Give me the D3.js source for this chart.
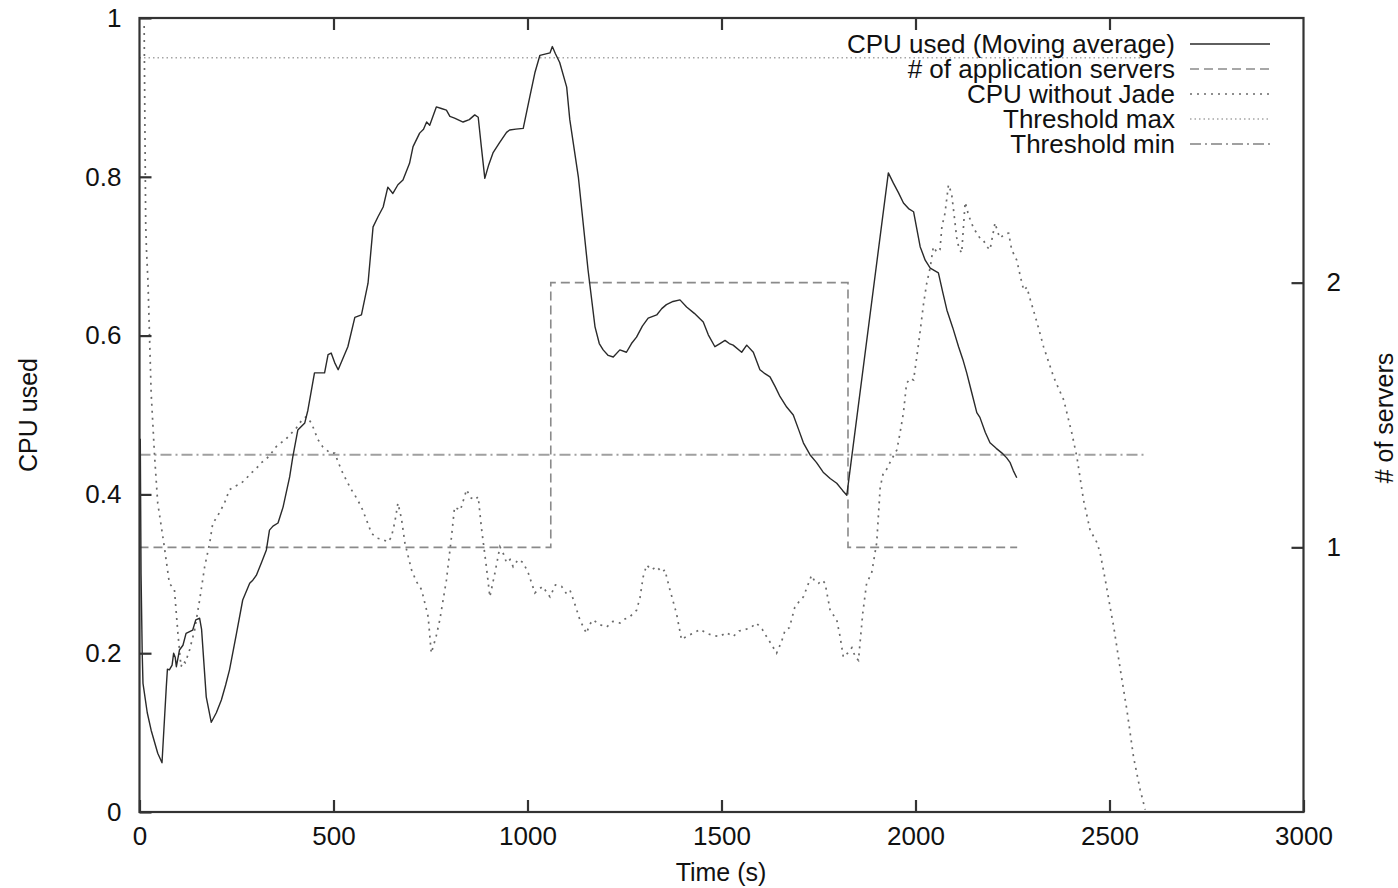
<!DOCTYPE html>
<html>
<head>
<meta charset="utf-8">
<script src="https://cdn.jsdelivr.net/npm/d3@7"></script>
<style>
  html, body { margin: 0; padding: 0; background: #fff; }
  svg text { font-family: "Liberation Sans", Arial, sans-serif; fill: #111; }
</style>
</head>
<body>
<svg id="chart" width="1398" height="888"></svg>
<script>
// CPU used (moving average) : [time s, cpu]
const cpuUsed = [
  [2, 0.47], [4, 0.30], [7, 0.20], [9, 0.162], [20, 0.125], [30, 0.103], [47, 0.074], [58, 0.062],
  [69, 0.157], [72, 0.18], [77, 0.179], [84, 0.185], [88, 0.20], [92, 0.195], [95, 0.183], [103, 0.204],
  [112, 0.21], [120, 0.225], [137, 0.229], [145, 0.242], [155, 0.244], [160, 0.23], [172, 0.145],
  [185, 0.113], [198, 0.125], [211, 0.141], [222, 0.16], [232, 0.179], [250, 0.225], [266, 0.267],
  [284, 0.288], [292, 0.292], [301, 0.298], [315, 0.315], [327, 0.33], [335, 0.355], [344, 0.36],
  [357, 0.364], [370, 0.384], [387, 0.422], [395, 0.447], [408, 0.481], [426, 0.49], [434, 0.506],
  [451, 0.553], [477, 0.553], [486, 0.576], [494, 0.578], [503, 0.566], [512, 0.557], [525, 0.572],
  [537, 0.586], [555, 0.623], [572, 0.626], [589, 0.666], [602, 0.737], [615, 0.75], [628, 0.762],
  [640, 0.787], [653, 0.779], [666, 0.79], [679, 0.796], [696, 0.817], [705, 0.838], [722, 0.855],
  [732, 0.86], [740, 0.869], [748, 0.865], [765, 0.888], [778, 0.886], [791, 0.884], [800, 0.876],
  [812, 0.874], [834, 0.869], [850, 0.872], [864, 0.878], [873, 0.875], [881, 0.838], [890, 0.798],
  [900, 0.815], [911, 0.83], [928, 0.843], [946, 0.856], [954, 0.859], [970, 0.86], [989, 0.861],
  [1006, 0.901], [1019, 0.931], [1032, 0.953], [1058, 0.956], [1064, 0.964], [1072, 0.955],
  [1083, 0.944], [1101, 0.913], [1109, 0.872], [1131, 0.80], [1156, 0.683], [1174, 0.611],
  [1185, 0.59], [1195, 0.582], [1208, 0.575], [1221, 0.573], [1238, 0.582], [1255, 0.579],
  [1268, 0.59], [1281, 0.598], [1296, 0.612], [1311, 0.622], [1333, 0.626], [1346, 0.634],
  [1358, 0.639], [1375, 0.643], [1393, 0.645], [1410, 0.636], [1430, 0.628], [1453, 0.617],
  [1466, 0.601], [1483, 0.586], [1496, 0.59], [1509, 0.594], [1520, 0.59], [1530, 0.588],
  [1552, 0.579], [1565, 0.588], [1582, 0.579], [1599, 0.557], [1612, 0.552], [1625, 0.548],
  [1638, 0.536], [1651, 0.523], [1668, 0.51], [1685, 0.50], [1700, 0.48], [1711, 0.465],
  [1728, 0.45], [1745, 0.44], [1762, 0.428], [1780, 0.42], [1797, 0.414], [1812, 0.405],
  [1823, 0.399], [1930, 0.805], [1943, 0.792], [1956, 0.78], [1969, 0.767], [1982, 0.76],
  [1995, 0.756], [2012, 0.712], [2025, 0.695], [2038, 0.685], [2059, 0.679], [2070, 0.655],
  [2081, 0.632], [2096, 0.61], [2111, 0.586], [2122, 0.57], [2132, 0.553], [2145, 0.528],
  [2158, 0.503], [2166, 0.497], [2180, 0.478], [2192, 0.465], [2208, 0.458], [2223, 0.452],
  [2235, 0.446], [2244, 0.44], [2252, 0.43], [2261, 0.421]
];

// number of application servers (right axis), step changes
const serverSteps = [
  [0, 1], [1060, 1], [1060, 2], [1826, 2], [1826, 1], [2262, 1]
];

// CPU without Jade : [time s, cpu]
const cpuNoJade = [
  [12, 0.99], [14, 0.86], [16, 0.74], [18, 0.708], [22, 0.666], [30, 0.528], [39, 0.447],
  [47, 0.389], [56, 0.36], [64, 0.334], [77, 0.288], [90, 0.28], [99, 0.225], [107, 0.183],
  [112, 0.19], [118, 0.188], [129, 0.204], [142, 0.229], [155, 0.267], [168, 0.309], [181, 0.339],
  [189, 0.364], [198, 0.37], [206, 0.377], [219, 0.389], [232, 0.406], [245, 0.41], [262, 0.414],
  [275, 0.42], [288, 0.427], [300, 0.432], [314, 0.44], [326, 0.444], [340, 0.452], [352, 0.46],
  [365, 0.465], [378, 0.47], [391, 0.477], [402, 0.482], [413, 0.49], [422, 0.495], [430, 0.498],
  [443, 0.49], [460, 0.469], [472, 0.46], [482, 0.456], [492, 0.452], [503, 0.452], [520, 0.431],
  [533, 0.418], [546, 0.406], [560, 0.395], [572, 0.384], [585, 0.368], [598, 0.351], [612, 0.345],
  [628, 0.343], [640, 0.34], [649, 0.346], [658, 0.365], [666, 0.389], [675, 0.37], [684, 0.339],
  [701, 0.305], [714, 0.29], [727, 0.28], [744, 0.246], [752, 0.20], [764, 0.22], [774, 0.242],
  [791, 0.292], [804, 0.346], [812, 0.384], [827, 0.38], [843, 0.406], [853, 0.396], [864, 0.393],
  [873, 0.397], [881, 0.359], [894, 0.309], [903, 0.271], [916, 0.301], [929, 0.334], [938, 0.325],
  [946, 0.314], [955, 0.318], [963, 0.309], [976, 0.318], [989, 0.314], [1002, 0.301],
  [1019, 0.276], [1030, 0.281], [1040, 0.284], [1050, 0.276], [1058, 0.271], [1072, 0.286],
  [1088, 0.284], [1099, 0.276], [1109, 0.28], [1120, 0.265], [1135, 0.242], [1152, 0.225],
  [1160, 0.236], [1169, 0.242], [1186, 0.236], [1204, 0.233], [1220, 0.24], [1238, 0.238],
  [1251, 0.243], [1264, 0.246], [1281, 0.254], [1290, 0.27], [1298, 0.296], [1307, 0.311],
  [1320, 0.305], [1333, 0.309], [1346, 0.302], [1354, 0.305], [1367, 0.28], [1384, 0.25],
  [1397, 0.217], [1412, 0.222], [1427, 0.225], [1445, 0.23], [1462, 0.225], [1480, 0.222],
  [1496, 0.221], [1512, 0.226], [1530, 0.221], [1545, 0.228], [1556, 0.229], [1575, 0.232],
  [1590, 0.238], [1605, 0.23], [1616, 0.221], [1630, 0.21], [1642, 0.20], [1655, 0.215],
  [1664, 0.229], [1675, 0.232], [1689, 0.258], [1700, 0.265], [1711, 0.271], [1722, 0.285],
  [1732, 0.298], [1741, 0.29], [1750, 0.288], [1760, 0.292], [1767, 0.288], [1780, 0.254],
  [1797, 0.242], [1806, 0.22], [1814, 0.195], [1825, 0.2], [1836, 0.207], [1845, 0.195],
  [1853, 0.191], [1864, 0.25], [1874, 0.288], [1887, 0.301], [1900, 0.339], [1909, 0.409],
  [1917, 0.427], [1926, 0.432], [1934, 0.44], [1945, 0.45], [1952, 0.456], [1960, 0.477],
  [1969, 0.503], [1977, 0.54], [1987, 0.546], [1995, 0.544], [2008, 0.59], [2021, 0.641],
  [2029, 0.666], [2038, 0.686], [2046, 0.712], [2055, 0.705], [2063, 0.708], [2068, 0.737],
  [2076, 0.754], [2085, 0.79], [2093, 0.779], [2100, 0.75], [2106, 0.724], [2112, 0.71],
  [2119, 0.704], [2128, 0.768], [2135, 0.755], [2141, 0.746], [2150, 0.735], [2158, 0.729],
  [2167, 0.722], [2175, 0.72], [2184, 0.712], [2192, 0.708], [2205, 0.742], [2212, 0.73],
  [2218, 0.723], [2230, 0.728], [2240, 0.729], [2248, 0.708], [2261, 0.695], [2270, 0.675],
  [2279, 0.657], [2287, 0.661], [2296, 0.645], [2304, 0.632], [2318, 0.608], [2330, 0.586],
  [2343, 0.567], [2356, 0.548], [2370, 0.532], [2382, 0.519], [2393, 0.497], [2403, 0.477],
  [2416, 0.447], [2433, 0.393], [2450, 0.355], [2468, 0.339], [2476, 0.326], [2490, 0.29],
  [2506, 0.246], [2511, 0.233], [2528, 0.179], [2545, 0.128], [2562, 0.069], [2579, 0.028],
  [2592, 0.003]
];

const thresholdMax = 0.95;
const thresholdMin = 0.45;
const thresholdSpan = [0, 2595];

const xTicks = [0, 500, 1000, 1500, 2000, 2500, 3000];
const yTicks = [0, 0.2, 0.4, 0.6, 0.8, 1];
const y2Ticks = [1, 2];

const legendLabels = [
  "CPU used (Moving average)",
  "# of application servers",
  "CPU without Jade",
  "Threshold max",
  "Threshold min"
];

const svg = d3.select("#chart");
const plotLeft = 139.5, plotRight = 1303.5, plotTop = 18, plotBottom = 812;
const fontSize = 26;

const x = d3.scaleLinear().domain([0, 3000]).range([plotLeft, plotRight]);
const y = d3.scaleLinear().domain([0, 1]).range([plotBottom, plotTop]);
const y2 = d3.scaleLinear().domain([0, 3]).range([plotBottom, plotTop]);

// line styles, in legend order
const styles = [
  { stroke: "#2a2a2a", width: 1.4, dash: null },
  { stroke: "#8a8a8a", width: 1.6, dash: "9,5" },
  { stroke: "#6a6a6a", width: 1.7, dash: "2,5" },
  { stroke: "#a5a5a5", width: 1.4, dash: "1.5,3" },
  { stroke: "#a0a0a0", width: 2, dash: "11,4,2,4" }
];

function styled(sel, s) {
  sel.attr("fill", "none")
    .attr("stroke", s.stroke)
    .attr("stroke-width", s.width);
  if (s.dash) sel.attr("stroke-dasharray", s.dash);
  return sel;
}

const line = d3.line().x(d => x(d[0])).y(d => y(d[1]));
const line2 = d3.line().x(d => x(d[0])).y(d => y2(d[1]));

const plot = svg.append("g");

// thresholds
styled(plot.append("path")
  .attr("d", line(thresholdSpan.map(t => [t, thresholdMax]))), styles[3]);
styled(plot.append("path")
  .attr("d", line(thresholdSpan.map(t => [t, thresholdMin]))), styles[4]);

// servers
styled(plot.append("path").attr("d", line2(serverSteps)), styles[1]);

// cpu without jade
styled(plot.append("path").attr("d", line(cpuNoJade)), styles[2]);

// cpu used
styled(plot.append("path").attr("d", line(cpuUsed)), styles[0])
  .attr("stroke-linejoin", "round");

// frame
svg.append("rect")
  .attr("x", plotLeft).attr("y", plotTop)
  .attr("width", plotRight - plotLeft).attr("height", plotBottom - plotTop)
  .attr("fill", "none").attr("stroke", "#333").attr("stroke-width", 2.2);

// axes (gnuplot style: inward ticks)
const tickLen = 12;
const axisBottom = d3.axisBottom(x).tickValues(xTicks).tickSize(-tickLen).tickPadding(15)
  .tickFormat(d3.format("d"));
const axisTop = d3.axisTop(x).tickValues(xTicks.slice(1, -1)).tickSize(-tickLen).tickFormat("");
const axisLeft = d3.axisLeft(y).tickValues(yTicks).tickSize(-tickLen).tickPadding(18)
  .tickFormat(d => d === 0 || d === 1 ? String(d) : d3.format(".1f")(d));
const axisRight = d3.axisRight(y2).tickValues(y2Ticks).tickSize(-tickLen).tickPadding(23)
  .tickFormat(d3.format("d"));

function styleAxis(g) {
  g.select(".domain").remove();
  g.selectAll(".tick line").attr("stroke", "#333").attr("stroke-width", 2.2);
  g.selectAll(".tick text").attr("font-size", fontSize).attr("fill", "#111")
    .attr("font-family", "'Liberation Sans', Arial, sans-serif");
}

svg.append("g").attr("transform", `translate(0,${plotBottom})`).call(axisBottom).call(styleAxis);
svg.append("g").attr("transform", `translate(0,${plotTop})`).call(axisTop).call(styleAxis);
svg.append("g").attr("transform", `translate(${plotLeft},0)`).call(axisLeft).call(styleAxis);
svg.append("g").attr("transform", `translate(${plotRight},0)`).call(axisRight).call(styleAxis);

// axis titles
svg.append("text")
  .attr("transform", "translate(37,415) rotate(-90)")
  .attr("text-anchor", "middle").attr("font-size", fontSize - 1)
  .text("CPU used");
svg.append("text")
  .attr("transform", "translate(1393,418) rotate(-90)")
  .attr("text-anchor", "middle").attr("font-size", fontSize - 1)
  .text("# of servers");
svg.append("text")
  .attr("x", 721).attr("y", 881)
  .attr("text-anchor", "middle").attr("font-size", fontSize - 1)
  .text("Time (s)");

// legend
const legend = svg.append("g");
legendLabels.forEach((label, i) => {
  const ly = 44 + i * 25;
  legend.append("text")
    .attr("x", 1175).attr("y", ly + 9)
    .attr("text-anchor", "end").attr("font-size", fontSize)
    .text(label);
  styled(legend.append("line")
    .attr("x1", 1190).attr("x2", 1270)
    .attr("y1", ly).attr("y2", ly), styles[i]);
});
</script>
</body>
</html>
